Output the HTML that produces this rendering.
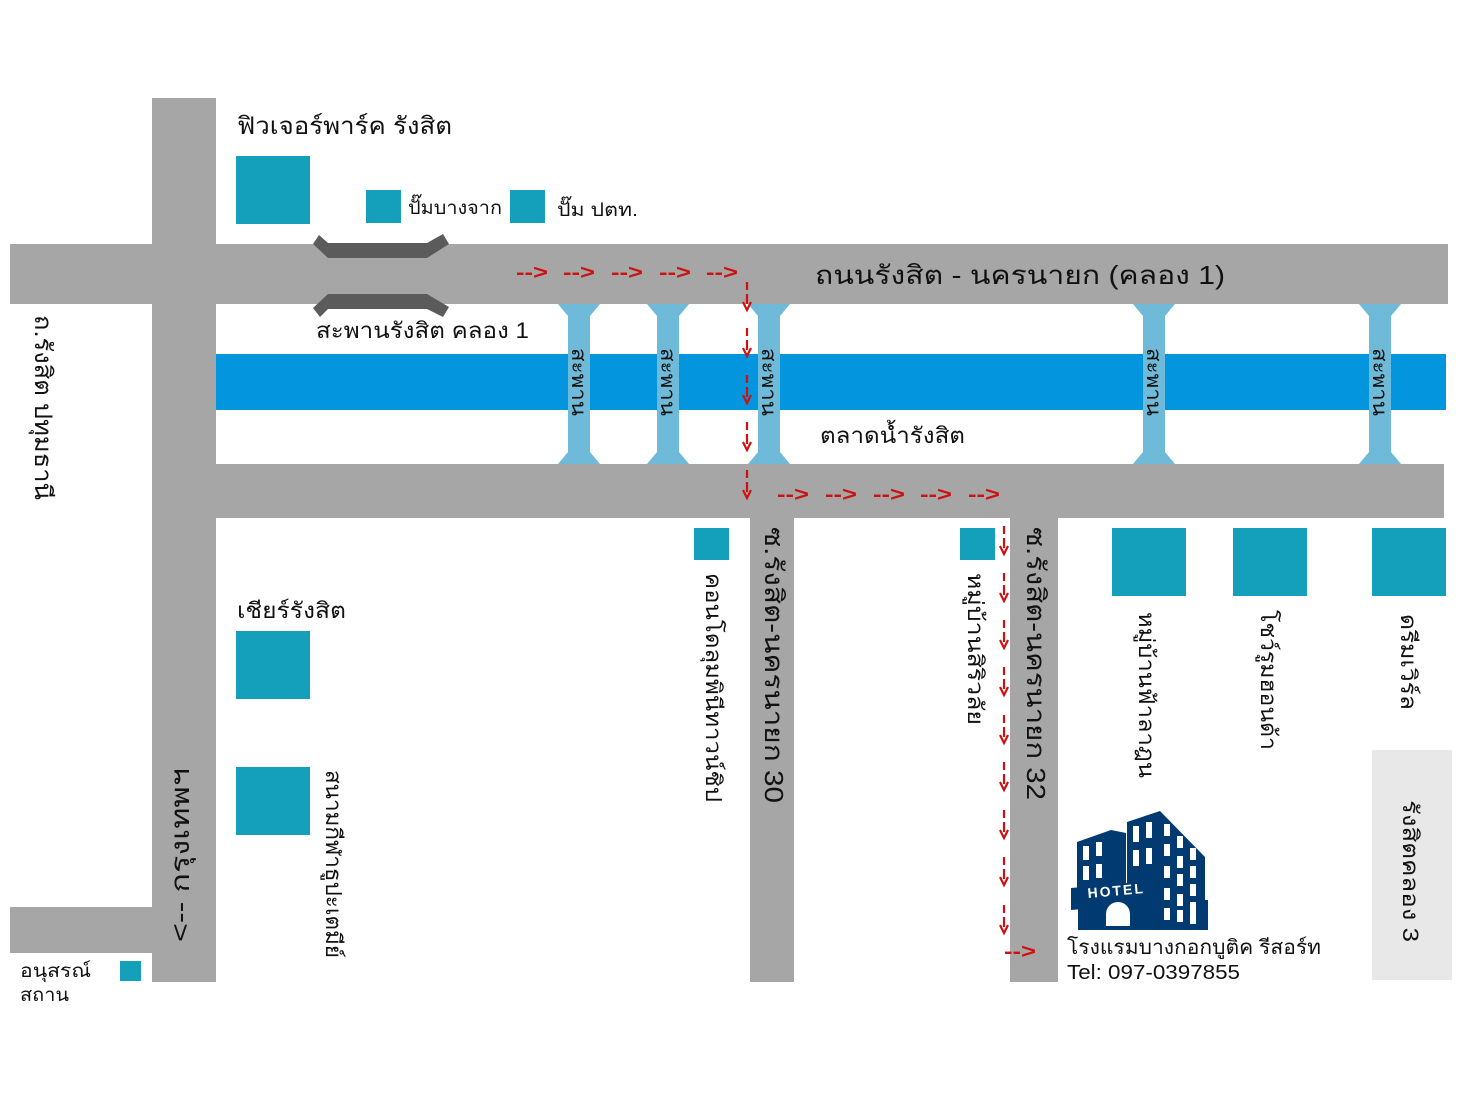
<!DOCTYPE html>
<html><head><meta charset="utf-8"><style>
html,body{margin:0;padding:0;background:#fff;}
svg{display:block;}
text{font-family:"Liberation Sans","DejaVu Sans",sans-serif;fill:#111;}
</style></head><body>
<svg width="1478" height="1108" viewBox="0 0 1478 1108" xmlns="http://www.w3.org/2000/svg">
<g fill="#a6a6a6">
<rect x="152" y="98" width="64" height="884"/>
<rect x="10" y="244" width="1438" height="60"/>
<rect x="216" y="464" width="1228" height="54"/>
<rect x="750" y="518" width="44" height="464"/>
<rect x="1010" y="518" width="48" height="464"/>
<rect x="10" y="907" width="142" height="46"/>
</g>
<rect x="216" y="354" width="1230" height="56" fill="#0395de"/>
<rect x="1372" y="750" width="80" height="230" fill="#e8e8e8"/>
<g fill="#6fbad8">
<path d="M558,304 L600,304 L590,316 L590,452 L600,464 L558,464 L568,452 L568,316 Z"/>
<path d="M647,304 L689,304 L679,316 L679,452 L689,464 L647,464 L657,452 L657,316 Z"/>
<path d="M748,304 L790,304 L780,316 L780,452 L790,464 L748,464 L758,452 L758,316 Z"/>
<path d="M1133,304 L1175,304 L1165,316 L1165,452 L1175,464 L1133,464 L1143,452 L1143,316 Z"/>
<path d="M1359,304 L1401,304 L1391,316 L1391,452 L1401,464 L1359,464 L1369,452 L1369,316 Z"/>
</g>
<g fill="#5a5b5a">
<polygon points="313,244 328,258 427,258 449,244 443,234 427,243 328,243 319,235"/>
<polygon points="313,308 320,317 328,309 427,309 443,317 449,307 427,294 328,294"/>
</g>
<g fill="#14a0ba">
<rect x="236" y="156" width="74" height="68"/>
<rect x="366" y="190" width="35" height="33"/>
<rect x="510" y="190" width="35" height="33"/>
<rect x="236" y="631" width="74" height="68"/>
<rect x="236" y="767" width="74" height="68"/>
<rect x="694" y="528" width="35" height="32"/>
<rect x="960" y="528" width="35" height="32"/>
<rect x="1112" y="528" width="74" height="68"/>
<rect x="1233" y="528" width="74" height="68"/>
<rect x="1372" y="528" width="74" height="68"/>
<rect x="120" y="961" width="21" height="20"/>
</g>
<text x="237" y="134" font-size="24" textLength="215" lengthAdjust="spacingAndGlyphs">ฟิวเจอร์พาร์ค รังสิต</text>
<text x="408" y="214" font-size="19" textLength="94" lengthAdjust="spacingAndGlyphs">ปั๊มบางจาก</text>
<text x="557" y="216" font-size="19" textLength="81" lengthAdjust="spacingAndGlyphs">ปั๊ม ปตท.</text>
<text x="815" y="284" font-size="26" textLength="410" lengthAdjust="spacingAndGlyphs">ถนนรังสิต - นครนายก (คลอง 1)</text>
<text x="316" y="338" font-size="22" textLength="213" lengthAdjust="spacingAndGlyphs">สะพานรังสิต คลอง 1</text>
<text x="820" y="443" font-size="22" textLength="145" lengthAdjust="spacingAndGlyphs">ตลาดน้ำรังสิต</text>
<text x="237" y="618" font-size="22" textLength="109" lengthAdjust="spacingAndGlyphs">เชียร์รังสิต</text>
<text x="20" y="977" font-size="19" textLength="71" lengthAdjust="spacingAndGlyphs">อนุสรณ์</text>
<text x="20" y="1001" font-size="19" textLength="49" lengthAdjust="spacingAndGlyphs">สถาน</text>
<text x="1067" y="954" font-size="20" textLength="254" lengthAdjust="spacingAndGlyphs">โรงแรมบางกอกบูติค รีสอร์ท</text>
<text x="1067" y="979" font-size="20" textLength="173" lengthAdjust="spacingAndGlyphs">Tel: 097-0397855</text>
<text font-size="24" textLength="185" lengthAdjust="spacingAndGlyphs" transform="translate(35,315) rotate(90)">ถ.รังสิต ปทุมธานี</text>
<text font-size="22" textLength="188" lengthAdjust="spacingAndGlyphs" transform="translate(326,770) rotate(90)">สนามกีฬาธูปะเตมีย์</text>
<text font-size="22" textLength="229" lengthAdjust="spacingAndGlyphs" transform="translate(706,573) rotate(90)">คอนโดลุมพินีทาวน์ชิป</text>
<text font-size="26" textLength="276" lengthAdjust="spacingAndGlyphs" transform="translate(765,527) rotate(90)">ซ.รังสิต-นครนายก 30</text>
<text font-size="22" textLength="152" lengthAdjust="spacingAndGlyphs" transform="translate(968,573) rotate(90)">หมู่บ้านสิริวลัย</text>
<text font-size="26" textLength="273" lengthAdjust="spacingAndGlyphs" transform="translate(1027,527) rotate(90)">ซ.รังสิต-นครนายก 32</text>
<text font-size="22" textLength="166" lengthAdjust="spacingAndGlyphs" transform="translate(1139,612) rotate(90)">หมู่บ้านฟ้าลาฎน</text>
<text font-size="22" textLength="140" lengthAdjust="spacingAndGlyphs" transform="translate(1261,610) rotate(90)">โชว์รูมฮอนด้า</text>
<text font-size="22" textLength="96" lengthAdjust="spacingAndGlyphs" transform="translate(1401,614) rotate(90)">ดรีมเวิร์ล</text>
<text font-size="22" textLength="142" lengthAdjust="spacingAndGlyphs" transform="translate(1403,800) rotate(90)">รังสิตคลอง 3</text>
<g font-size="20">
<text textLength="68" lengthAdjust="spacingAndGlyphs" transform="translate(572,348) rotate(90)">สะพาน</text>
<text textLength="68" lengthAdjust="spacingAndGlyphs" transform="translate(661,348) rotate(90)">สะพาน</text>
<text textLength="68" lengthAdjust="spacingAndGlyphs" transform="translate(762,348) rotate(90)">สะพาน</text>
<text textLength="68" lengthAdjust="spacingAndGlyphs" transform="translate(1147,348) rotate(90)">สะพาน</text>
<text textLength="68" lengthAdjust="spacingAndGlyphs" transform="translate(1373,348) rotate(90)">สะพาน</text>
</g>
<text font-size="26" textLength="174" lengthAdjust="spacingAndGlyphs" transform="translate(189,942) rotate(-90)">&lt;-- กรุงเทพฯ</text>
<g font-size="20" font-weight="bold">
<text x="516" y="279" style="fill:#cc1111" textLength="32" lengthAdjust="spacingAndGlyphs">--&gt;</text>
<text x="563" y="279" style="fill:#cc1111" textLength="32" lengthAdjust="spacingAndGlyphs">--&gt;</text>
<text x="611" y="279" style="fill:#cc1111" textLength="32" lengthAdjust="spacingAndGlyphs">--&gt;</text>
<text x="659" y="279" style="fill:#cc1111" textLength="32" lengthAdjust="spacingAndGlyphs">--&gt;</text>
<text x="706" y="279" style="fill:#cc1111" textLength="32" lengthAdjust="spacingAndGlyphs">--&gt;</text>
<text x="777" y="501" style="fill:#cc1111" textLength="32" lengthAdjust="spacingAndGlyphs">--&gt;</text>
<text x="825" y="501" style="fill:#cc1111" textLength="32" lengthAdjust="spacingAndGlyphs">--&gt;</text>
<text x="873" y="501" style="fill:#cc1111" textLength="32" lengthAdjust="spacingAndGlyphs">--&gt;</text>
<text x="920" y="501" style="fill:#cc1111" textLength="32" lengthAdjust="spacingAndGlyphs">--&gt;</text>
<text x="968" y="501" style="fill:#cc1111" textLength="32" lengthAdjust="spacingAndGlyphs">--&gt;</text>
<text x="1004" y="958" style="fill:#cc1111" textLength="32" lengthAdjust="spacingAndGlyphs">--&gt;</text>
</g>
<defs>
<g id="da"><path d="M0,0 v8 M0,12 v10 M-4,20 L0,28 L4,20" stroke="#cc1111" stroke-width="2.2" fill="none"/></g>
</defs>
<g>
<use href="#da" x="747" y="282"/>
<use href="#da" x="747" y="328"/>
<use href="#da" x="747" y="375"/>
<use href="#da" x="747" y="422"/>
<use href="#da" x="747" y="470"/>
<use href="#da" x="1004" y="526"/>
<use href="#da" x="1004" y="573"/>
<use href="#da" x="1004" y="620"/>
<use href="#da" x="1004" y="667"/>
<use href="#da" x="1004" y="715"/>
<use href="#da" x="1004" y="762"/>
<use href="#da" x="1004" y="810"/>
<use href="#da" x="1004" y="857"/>
<use href="#da" x="1004" y="905"/>
</g>
<g fill="#003a70">
<polygon points="1077,842 1111,830 1126,833 1126,900 1077,900"/>
<polygon points="1127,822 1160,811 1205,857 1205,925 1127,925"/>
<polygon points="1071,888 1160,880 1160,902 1071,910"/>
<rect x="1078" y="900" width="130" height="30"/>
</g>
<g fill="#fff">
<rect x="1083" y="846" width="6" height="14"/><rect x="1096" y="842" width="6" height="14"/>
<rect x="1083" y="866" width="6" height="14"/><rect x="1096" y="864" width="6" height="14"/>
<rect x="1133" y="826" width="6" height="16"/><rect x="1146" y="822" width="6" height="16"/>
<rect x="1133" y="850" width="6" height="16"/><rect x="1146" y="848" width="6" height="16"/>
<rect x="1164" y="824" width="6" height="12"/><rect x="1177" y="836" width="6" height="12"/><rect x="1190" y="848" width="6" height="12"/>
<rect x="1164" y="844" width="6" height="12"/><rect x="1177" y="856" width="6" height="12"/><rect x="1190" y="866" width="6" height="12"/>
<rect x="1164" y="866" width="6" height="12"/><rect x="1177" y="874" width="6" height="12"/><rect x="1190" y="884" width="6" height="12"/>
<rect x="1164" y="888" width="6" height="12"/><rect x="1177" y="894" width="6" height="12"/><rect x="1190" y="902" width="6" height="12"/>
<rect x="1164" y="908" width="6" height="12"/><rect x="1177" y="910" width="6" height="12"/><rect x="1190" y="912" width="6" height="12"/>
<path d="M1106,926 v-12 a12,12 0 0 1 24,0 v12 z"/>
</g>
<text x="1088" y="898" font-size="14" font-weight="bold" style="fill:#fff" transform="rotate(-5 1088 898)" letter-spacing="2">HOTEL</text>
</svg>
</body></html>
